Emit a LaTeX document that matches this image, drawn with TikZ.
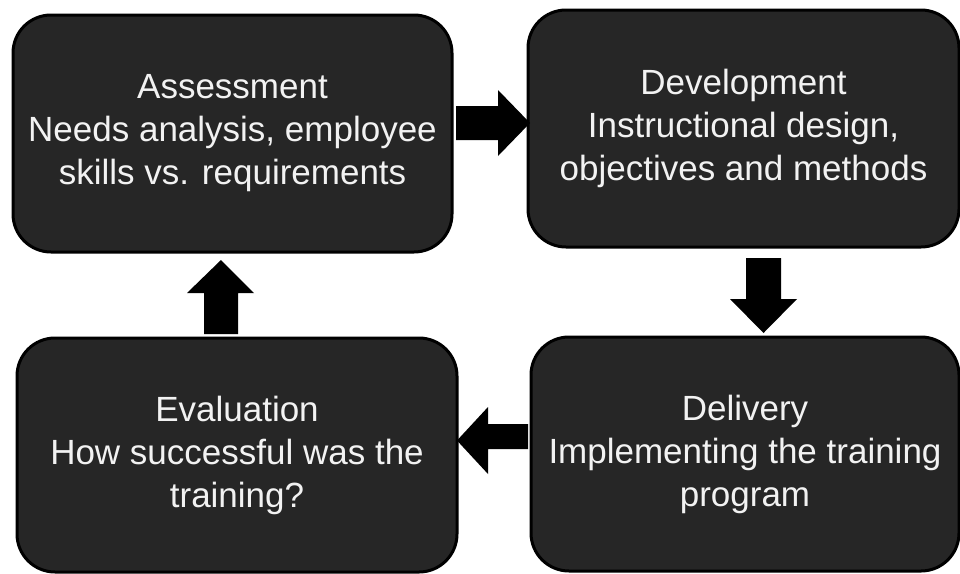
\documentclass[tikz,border=0pt]{standalone}
\usepackage{fontspec}
\setmainfont{Liberation Sans}
\begin{document}
\begin{tikzpicture}[x=1pt,y=-1pt,
  stage/.style={draw=black, line width=3pt, fill=boxgray, rounded corners=38pt,
    text=boxtext, align=center, inner sep=0pt,
    font=\fontsize{35pt}{43pt}\selectfont},
  blockarrow/.style={fill=black}]
\definecolor{boxgray}{HTML}{262626}
\definecolor{boxtext}{HTML}{F2F2F2}
\useasboundingbox (0,0) rectangle (960,573);

% four stages of the training cycle
\node[stage, minimum width=439pt, minimum height=237pt] (assess) at (232.5,133.5)
  {Assessment\\Needs analysis, employee\\skills vs. requirements};
\node[stage, minimum width=431pt, minimum height=237pt] (devel) at (743.5,128.5)
  {Development\\Instructional design,\\objectives and methods};
\node[stage, minimum width=428pt, minimum height=234pt] (deliv) at (745,454)
  {Delivery\\Implementing the training\\program};
\node[stage, minimum width=440pt, minimum height=234pt] (evalu) at (237,455)
  {Evaluation\\How successful was the\\training?};

% block arrows between the stages
\fill[blockarrow] (456,106) -- (498,106) -- (498,90) -- (530,123) -- (498,156)
  -- (498,140) -- (456,140) -- cycle;
\fill[blockarrow] (746,258) -- (781,258) -- (781,299) -- (797,299) -- (763.5,333)
  -- (730,299) -- (746,299) -- cycle;
\fill[blockarrow] (528,424) -- (488,424) -- (488,407) -- (457,440.5) -- (488,474)
  -- (488,449) -- (528,449) -- cycle;
\fill[blockarrow] (204,334) -- (204,293) -- (187,293) -- (221,260) -- (254,293)
  -- (238,293) -- (238,334) -- cycle;
\end{tikzpicture}
\end{document}
